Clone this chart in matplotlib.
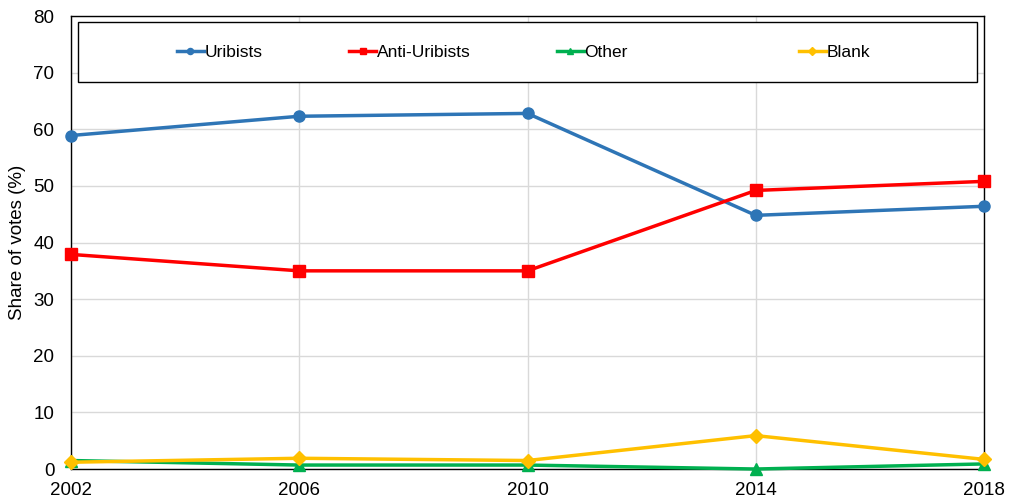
import matplotlib
matplotlib.use("Agg")
import matplotlib.pyplot as plt
from matplotlib.patches import Rectangle
from matplotlib.legend import Legend

years = ["2002", "2006", "2010", "2014", "2018"]
uribists = [58.9, 62.3, 62.8, 44.8, 46.4]
anti_uribists = [37.9, 35.0, 35.0, 49.2, 50.8]
other = [1.5, 0.7, 0.7, 0.0, 0.9]
blank = [1.2, 1.9, 1.5, 5.9, 1.7]

series = [
    ("Uribists", uribists, "#2E75B6", "o", 8),
    ("Anti-Uribists", anti_uribists, "#FF0000", "s", 8),
    ("Other", other, "#00B050", "^", 8),
    ("Blank", blank, "#FFC000", "D", 7),
]

plt.rcParams['font.family'] = ['Liberation Sans', 'DejaVu Sans']
fig = plt.figure(figsize=(10.09, 5.04), dpi=100)
ax = fig.add_axes([0.0704, 0.0694, 0.9048, 0.8988])

x = list(range(len(years)))
handles = []
for name, vals, col, mk, ms in series:
    h, = ax.plot(x, vals, color=col, marker=mk, markersize=ms, linewidth=2.5,
                 label=name, clip_on=False, zorder=3)
    handles.append(h)

ax.set_xlim(0, len(years) - 1)
ax.set_ylim(0, 80)
ax.set_yticks(range(0, 81, 10))
ax.set_xticks(x)
ax.set_xticklabels(years)
ax.grid(True, color="#D9D9D9", linewidth=1)
ax.set_axisbelow(True)
ax.tick_params(length=0, labelsize=13.5)
ax.tick_params(axis="x", pad=9)
ax.tick_params(axis="y", pad=12)
for s in ax.spines.values():
    s.set_color("black")
    s.set_linewidth(1)
ax.set_ylabel("Share of votes (%)", fontsize=13.5, labelpad=5)

# legend frame
ax.add_patch(Rectangle((0.0077, 0.854), 0.985, 0.132, transform=ax.transAxes,
                       facecolor="white", edgecolor="black", linewidth=1, zorder=4))
xs = [0.116, 0.305, 0.532, 0.797]
for h, xp in zip(handles, xs):
    leg = Legend(ax, [h], [h.get_label()], loc="center left",
                 bbox_to_anchor=(xp, 0.9205), bbox_transform=ax.transAxes,
                 frameon=False, fontsize=12.5,
                 handlelength=1.55, handletextpad=0.05, borderpad=0,
                 borderaxespad=0, markerscale=0.55)
    leg.set_zorder(5)
    ax.add_artist(leg)

fig.savefig("out.png", dpi=100)
